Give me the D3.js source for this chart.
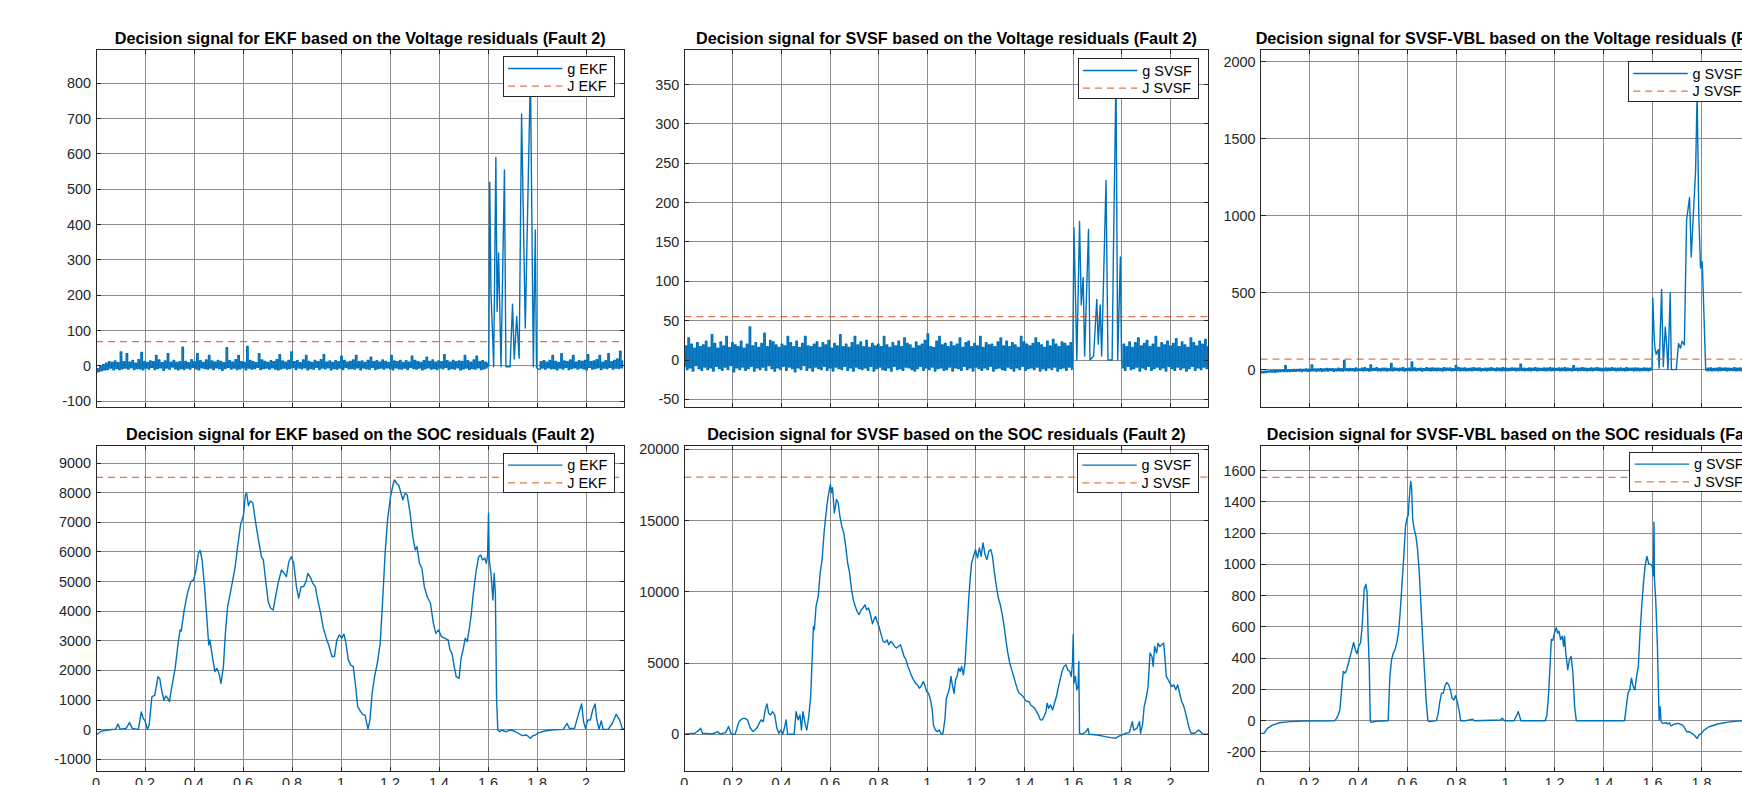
<!DOCTYPE html>
<html><head><meta charset="utf-8">
<script src="https://cdn.jsdelivr.net/npm/d3@7"></script>
<style>
body{margin:0;background:#fff;overflow:hidden}
svg{display:block}
text{font-family:"Liberation Sans",Arial,Helvetica,sans-serif}
</style>
</head><body>
<svg id="c" width="1742" height="785"></svg>
<script>
// ---------------- DATA ----------------
const xTicks = [0,0.2,0.4,0.6,0.8,1,1.2,1.4,1.6,1.8,2];
const xMax = 2.157;
const sampleDt = 0.006;

// EKF voltage decision signal (noise read as alternating low/high envelope samples)
const ekfVoltPre = [-20,-8,-16,-2,-13,4,-11,8,-10,12,-6,10,-11,14,-7,9,-10,40,-8,12,
-6,35,-9,11,-5,16,-10,8,-7,18,-8,38,-11,13,-6,10,-9,14,-4,12,
-10,30,-7,17,-5,9,-12,14,-6,35,-9,11,-3,16,-8,10,-11,12,-7,53,
-10,13,-6,9,-9,18,-4,12,-8,35,-11,15,-5,10,-7,17,-9,30,-6,14,
-10,11,-5,16,-8,13,-12,9,-7,52,-4,15,-9,11,-6,18,-10,30,-8,12,
-5,10,-11,55,-6,16,-9,12,-7,9,-4,35,-10,17,-7,13,-6,10,-9,15,
-5,12,-9,18,-11,32,-8,14,-6,11,-9,16,-7,40,-4,12,-10,15,-6,9,
-8,17,-5,30,-11,13,-7,10,-9,16,-4,12,-10,18,-6,32,-8,11,-5,14,
-11,10,-7,15,-9,12,-6,28,-10,16,-4,11,-8,13,-7,17,-9,30,-5,12,
-11,14,-6,10,-8,16,-9,25,-4,12,-10,15,-7,11,-6,17,-9,13,-5,10,
-7,30,-11,14,-5,12,-8,16,-9,10,-6,15,-10,11,-4,28,-7,16,-9,12,
-6,10,-11,15,-8,25,-5,13,-9,17,-7,11,-10,14,-6,12,-8,32,-4,15,
-10,11,-7,16,-9,12,-5,14,-11,13,-8,30,-6,15,-10,11,-7,17,-9,28,
-5,12,-10,15,-8,11,-6];
const ekfVoltFaultT = [1.598,1.603,1.607,1.612,1.618,1.623,1.632,1.637,1.643,1.653,1.667,1.673,1.69,1.7,1.707,1.717,1.727,1.737,1.752,1.773,1.785,1.793,1.798,1.805];
const ekfVoltFaultG = [8,0,520,206,100,-2,590,154,320,-2,555,-2,-2,175,20,140,22,713,107,830,-2,385,-5,-8];
const ekfVoltPostStart = 1.81;
const ekfVoltPost = [-10,12,-6,15,-9,11,-5,16,-8,30,-7,13,-11,10,-6,35,-9,14,-4,12,
-10,17,-7,30,-5,11,-9,15,-6,13,-8,16,-11,32,-4,12,-9,14,-7,18,
-5,30,-10,11,-6,15,-8,35,-4,12,-9,16,-6,20,-7,42,-5,14];
const ekfVoltJ = 69;

// SVSF voltage decision signal
const svsfVoltPre = [-8,18,-12,28,-10,20,-14,15,-7,22,-11,17,-13,19,-9,24,-12,16,-10,32,
-14,21,-8,15,-11,23,-13,18,-9,30,-12,16,-7,22,-15,19,-10,17,-12,24,
-9,15,-13,20,-11,42,-8,18,-14,22,-10,16,-12,21,-9,34,-13,17,-7,25,
-11,23,-14,19,-10,16,-12,20,-8,18,-13,30,-9,22,-11,17,-15,24,-10,16,
-12,21,-7,30,-13,18,-10,17,-14,20,-9,23,-11,16,-12,22,-8,19,-13,25,
-10,15,-14,21,-9,18,-11,32,-12,17,-8,20,-13,16,-10,22,-14,30,-9,19,
-11,23,-12,17,-10,25,-13,16,-8,21,-14,18,-11,20,-9,17,-12,30,-13,19,
-10,16,-14,22,-8,18,-12,24,-11,17,-13,28,-9,21,-10,19,-12,15,-14,23,
-11,18,-8,20,-13,25,-10,33,-12,17,-9,16,-14,24,-11,30,-10,19,-13,21,
-12,17,-9,23,-14,18,-10,20,-11,28,-13,16,-8,22,-12,24,-10,17,-14,21,
-9,18,-11,30,-13,16,-10,22,-12,19,-8,20,-14,17,-11,23,-10,28,-12,18,
-13,24,-9,17,-11,22,-14,19,-10,16,-12,30,-8,23,-13,20,-11,18,-10,21,
-12,28,-9,22,-14,19,-11,16,-13,24,-10,18,-12,26,-9,20,-14,17,-11,23,
-10,21,-13,18,-9,22,-12];
const svsfVoltFaultT = [1.598,1.603,1.609,1.615,1.626,1.633,1.641,1.647,1.663,1.669,1.684,1.697,1.703,1.711,1.717,1.735,1.743,1.76,1.766,1.776,1.783,1.794,1.799];
const svsfVoltFaultG = [2,168,85,0,176,70,105,5,166,0,5,77,20,70,5,228,0,0,150,360,0,131,0];
const svsfVoltPostStart = 1.802;
const svsfVoltPost = [-10,20,-13,17,-8,23,-12,16,-11,22,-9,28,-14,18,-10,21,-12,25,-8,17,
-13,20,-11,30,-9,16,-12,22,-10,19,-14,24,-8,18,-11,21,-13,27,-9,17,
-12,23,-10,19,-14,16,-11,28,-8,22,-13,18,-10,24,-12,20,-9,26,-11,17];
const svsfVoltJ = 55;

// SVSF-VBL voltage decision signal
const vblVoltPre = [-22,-12,-20,-10,-18,-8,-16,-6,-15,-5,-17,-4,-14,-3,-13,-2,-12,25,-13,-1,
-12,0,-10,2,-11,1,-9,3,-12,2,-8,4,-10,3,-9,30,-7,5,-11,4,
-8,6,-10,5,-7,8,-9,6,-6,7,-10,5,-8,9,-7,6,-9,60,-6,7,
-8,8,-5,6,-9,11,-7,5,-6,9,-8,12,-5,7,-9,30,-6,8,-4,12,
-8,6,-7,10,-5,9,-9,7,-6,40,-8,11,-4,8,-7,10,-6,12,-9,7,
-5,9,-8,50,-6,11,-7,8,-4,10,-9,7,-6,12,-5,9,-8,11,-6,9,
-7,10,-5,8,-9,12,-6,9,-4,11,-8,7,-6,28,-5,12,-7,9,-6,11,
-8,8,-5,10,-7,12,-4,9,-6,11,-8,7,-5,10,-7,9,-6,12,-4,8,
-7,11,-6,9,-8,12,-5,10,-7,8,-6,11,-4,9,-8,9,-6,35,-5,10,
-7,8,-6,11,-8,9,-4,12,-7,10,-5,8,-6,11,-8,9,-5,12,-7,10,
-6,8,-4,11,-8,9,-5,12,-7,10,-6,8,-8,25,-4,9,-7,9,-6,12,
-5,10,-8,8,-6,11,-7,9,-4,12,-6,10,-8,8,-5,11,-7,9,-6,12,
-4,10,-8,9,-6,11,-5,8,-7,12,-6,10,-4,9,-8,11,-5,10,-7,8,
-6,11,-5,9,-7,10,-4];
const vblVoltFaultT = [1.598,1.601,1.607,1.61,1.615,1.623,1.627,1.637,1.644,1.652,1.658,1.663,1.672,1.677,1.697,1.706,1.714,1.721,1.73,1.739,1.751,1.758,1.768,1.776,1.782,1.789,1.796,1.803,1.817];
const vblVoltFaultG = [2,466,200,137,100,130,10,520,20,277,150,0,500,0,0,169,140,184,160,970,1118,732,1050,1300,1800,1000,660,700,0];
const vblVoltPostStart = 1.82;
const vblVoltPost = [-8,9,-6,11,-7,8,-5,10,-8,12,-6,9,-4,11,-7,10,-5,8,-6,12,
-8,9,-5,11,-7,10,-6,8,-4,12,-7,9,-5,11,-8,10,-6,12,-4,9,
-7,11,-5,8,-6,10,-8,12,-5,9,-7,11,-4,10,-6,8,-5];
const vblVoltJ = 68;

// EKF SOC decision signal
const ekfSocT = [0,0.023,0.057,0.08,0.09,0.098,0.123,0.137,0.148,0.173,
0.185,0.193,0.2,0.21,0.217,0.228,0.24,0.253,0.26,0.268,
0.277,0.285,0.293,0.3,0.307,0.323,0.335,0.343,0.348,0.36,
0.373,0.387,0.398,0.407,0.418,0.425,0.433,0.443,0.452,0.46,
0.465,0.473,0.485,0.493,0.502,0.51,0.52,0.528,0.537,0.548,
0.557,0.568,0.578,0.59,0.602,0.61,0.615,0.622,0.63,0.64,
0.652,0.663,0.675,0.683,0.693,0.703,0.713,0.723,0.733,0.743,
0.757,0.768,0.777,0.787,0.797,0.807,0.818,0.827,0.837,0.847,
0.857,0.865,0.877,0.885,0.895,0.905,0.917,0.928,0.94,0.952,
0.963,0.973,0.983,0.993,1.003,1.012,1.02,1.03,1.04,1.05,
1.06,1.068,1.08,1.09,1.098,1.11,1.118,1.127,1.137,1.148,
1.16,1.17,1.18,1.19,1.202,1.212,1.218,1.227,1.235,1.243,
1.252,1.262,1.27,1.282,1.293,1.303,1.31,1.32,1.33,1.34,
1.352,1.365,1.377,1.387,1.398,1.41,1.423,1.437,1.445,1.453,
1.462,1.47,1.482,1.49,1.498,1.507,1.515,1.523,1.532,1.54,
1.552,1.562,1.57,1.578,1.587,1.593,1.598,1.602,1.605,1.612,
1.62,1.625,1.63,1.635,1.64,1.648,1.657,1.673,1.69,1.707,
1.723,1.74,1.757,1.773,1.782,1.793,1.807,1.832,1.857,1.907,
1.923,1.932,1.953,1.97,1.982,1.99,1.998,2.007,2.018,2.027,
2.037,2.043,2.053,2.062,2.07,2.09,2.107,2.123,2.137,2.148,
2.157];
const ekfSocG = [-180,-45,0,20,190,20,45,240,45,10,
600,380,300,10,160,1110,1170,1790,1730,1340,
1000,1140,1060,950,1340,2070,2900,3370,3330,4040,
4600,5000,5060,5340,5960,6050,5730,4830,3820,2860,
3030,2580,1960,2070,1900,1565,2130,3250,4150,4600,
5000,5500,6180,6910,7250,7930,7980,7560,7720,7650,
6970,6410,5840,5730,5000,4320,4100,4040,4490,4940,
5390,5280,5170,5670,5840,5620,4830,4440,4830,4830,
5000,5280,5110,4940,4830,4380,3930,3420,3090,2800,
2470,2470,3030,3200,3090,3230,2920,2350,2180,2130,
1450,780,610,500,500,20,330,1230,1790,2240,
2920,4380,5960,7080,7870,8260,8430,8320,8260,8040,
7760,7980,7930,7310,6520,6070,6180,5620,5450,4830,
4490,4270,3590,3250,3370,3140,3090,3030,2690,2580,
2130,1790,1730,2410,2690,3090,2970,3370,3930,4600,
5390,5840,5900,5730,5790,5620,5840,7310,5730,5280,
4380,5280,4600,1000,-10,-70,-10,-70,-10,-45,
-120,-200,-180,-290,-210,-180,-100,-45,-10,10,
210,45,45,550,870,270,45,330,330,660,
870,380,20,300,10,10,210,520,330,45,
10];
const ekfSocJ = 8520;

// SVSF SOC decision signal
const svsfSocT = [0,0.02,0.044,0.06,0.067,0.075,0.115,0.138,0.146,0.17,
0.182,0.193,0.209,0.225,0.237,0.248,0.26,0.272,0.283,0.29,
0.3,0.308,0.316,0.325,0.333,0.34,0.347,0.355,0.363,0.372,
0.381,0.389,0.397,0.405,0.413,0.419,0.425,0.436,0.452,0.46,
0.468,0.476,0.482,0.488,0.498,0.504,0.512,0.52,0.527,0.531,
0.535,0.542,0.551,0.559,0.567,0.575,0.582,0.59,0.597,0.601,
0.606,0.61,0.617,0.622,0.626,0.633,0.64,0.648,0.656,0.664,
0.672,0.68,0.688,0.695,0.703,0.711,0.719,0.727,0.735,0.743,
0.75,0.758,0.766,0.774,0.78,0.787,0.793,0.801,0.808,0.818,
0.826,0.834,0.841,0.849,0.857,0.865,0.873,0.881,0.889,0.896,
0.904,0.912,0.92,0.928,0.936,0.943,0.951,0.959,0.967,0.975,
0.983,0.989,0.997,1.005,1.013,1.02,1.025,1.033,1.041,1.049,
1.057,1.064,1.072,1.078,1.085,1.091,1.097,1.104,1.11,1.116,
1.122,1.129,1.135,1.141,1.148,1.155,1.163,1.17,1.176,1.182,
1.19,1.198,1.206,1.214,1.221,1.229,1.237,1.245,1.253,1.261,
1.268,1.276,1.284,1.292,1.3,1.308,1.316,1.323,1.331,1.339,
1.347,1.355,1.363,1.371,1.378,1.386,1.394,1.402,1.41,1.418,
1.425,1.433,1.441,1.449,1.457,1.465,1.473,1.48,1.488,1.493,
1.499,1.507,1.515,1.523,1.531,1.538,1.546,1.554,1.562,1.57,
1.578,1.586,1.592,1.597,1.6,1.603,1.609,1.615,1.62,1.623,
1.626,1.637,1.653,1.661,1.666,1.7,1.732,1.755,1.776,1.784,
1.8,1.815,1.831,1.843,1.849,1.862,1.873,1.877,1.885,1.892,
1.9,1.908,1.916,1.924,1.929,1.935,1.943,1.949,1.956,1.964,
1.972,1.977,1.983,1.991,1.998,2.006,2.014,2.022,2.03,2.038,
2.046,2.053,2.061,2.069,2.077,2.085,2.1,2.116,2.124,2.132,
2.157];
const svsfSocG = [0,50,70,300,420,70,20,190,20,120,
540,20,0,890,1080,1130,1010,420,190,300,
470,770,1010,890,1710,2130,1480,1360,1590,1360,
420,70,300,0,540,1010,0,0,0,1590,
1010,1360,300,1590,660,300,1240,2650,5700,7570,
7340,8980,9680,11320,12260,14130,15310,16480,17180,17530,
16950,17300,15540,16010,16480,16240,15310,14600,14130,13200,
12020,11320,10150,9450,8980,8630,8390,8700,8860,9090,
8740,8860,8390,7760,8040,8270,7920,7570,7100,6520,
6450,6630,6280,6520,6400,6160,6050,6160,6280,5930,
5460,5230,4760,4410,4060,3820,3590,3470,3230,3400,
3700,3470,3000,2880,2410,1710,660,300,190,300,
0,70,1010,2530,2880,3230,4060,3350,2880,3820,
4060,4640,4410,4760,4170,4990,7340,9450,10850,12020,
12490,12960,12380,13080,12490,13430,12610,12260,12850,12960,
12490,11320,10380,9560,9090,8390,7570,6630,5700,4990,
4520,4060,3590,3120,2880,2770,2650,2410,2300,2300,
2060,1950,1830,1590,1360,1010,1010,1240,1590,2180,
1830,2060,1710,2180,2650,3230,3820,4410,4760,4880,
4520,4410,4060,4990,6980,3590,4060,3120,3350,5110,
70,0,190,420,0,-50,-160,-230,-280,-160,
-50,70,120,890,300,420,890,70,660,1950,
2530,3350,5700,5460,4760,6160,5700,6400,6160,6280,
6400,5460,4060,3820,3590,3350,3470,3120,3470,2880,
2300,2060,1590,1010,420,70,70,300,190,20,
0];
const svsfSocJ = 18040;

// SVSF-VBL SOC decision signal
const vblSocT = [0,0.014,0.028,0.049,0.077,0.12,0.176,0.303,0.31,0.317,
0.324,0.331,0.338,0.345,0.352,0.359,0.366,0.373,0.38,0.387,
0.394,0.401,0.408,0.415,0.423,0.43,0.435,0.439,0.444,0.448,
0.451,0.472,0.514,0.521,0.528,0.535,0.542,0.549,0.556,0.563,
0.57,0.577,0.585,0.592,0.599,0.603,0.607,0.613,0.617,0.621,
0.627,0.634,0.641,0.648,0.655,0.662,0.669,0.676,0.683,0.69,
0.718,0.725,0.732,0.739,0.746,0.754,0.761,0.768,0.775,0.782,
0.789,0.796,0.803,0.81,0.817,0.838,0.866,0.873,0.979,0.987,
0.996,1.035,1.046,1.052,1.058,1.063,1.162,1.169,1.176,1.183,
1.187,1.193,1.2,1.207,1.213,1.218,1.225,1.232,1.237,1.241,
1.246,1.254,1.261,1.268,1.275,1.282,1.289,1.486,1.493,1.5,
1.507,1.514,1.521,1.528,1.535,1.542,1.549,1.556,1.563,1.57,
1.577,1.585,1.592,1.599,1.603,1.606,1.608,1.613,1.62,1.627,
1.631,1.635,1.641,1.655,1.663,1.669,1.676,1.69,1.704,1.723,
1.732,1.739,1.75,1.761,1.77,1.782,1.789,1.8,1.81,1.831,
1.866,1.908,1.96,2.0,2.08,2.157];
const vblSocG = [-81,-81,-49,-28,-13,-6,-2,0,15,36,
69,197,315,304,326,369,411,454,501,454,
429,476,497,604,840,872,819,561,347,0,
-11,-4,0,0,283,390,433,454,497,561,
690,861,1054,1247,1301,1312,1419,1530,1483,1290,
1226,1183,1097,947,733,519,326,133,0,-6,
0,47,122,176,176,229,244,229,197,144,
133,159,122,69,0,0,9,0,4,15,
0,0,36,58,26,0,0,36,176,390,
519,514,561,594,561,572,519,540,476,540,
433,326,390,411,304,90,0,0,90,176,
197,272,219,197,283,347,561,733,883,990,
1050,1001,1001,990,926,1269,904,776,476,4,
90,-6,-17,-13,-21,-13,-34,-21,-17,-28,
-49,-71,-71,-81,-92,-114,-92,-81,-60,-39,
-21,-9,0,0,0,0];
const vblSocJ = 1556;

// y ticks
const ekfVoltTicks = [-100,0,100,200,300,400,500,600,700,800];
const svsfVoltTicks = [-50,0,50,100,150,200,250,300,350];
const vblVoltTicks = [0,500,1000,1500,2000];
const ekfSocTicks = [-1000,0,1000,2000,3000,4000,5000,6000,7000,8000,9000];
const svsfSocTicks = [0,5000,10000,15000,20000];
const vblSocTicks = [-200,0,200,400,600,800,1000,1200,1400,1600];

// ---------------- BUILD SERIES ----------------
// dense noisy parts drawn as min/max steps (one vertical stroke per sample), fault spikes as plain lines
function noisySegments(pre, faultT, faultG, postStart, post){
  const a = pre.map((g,i)=>[i*sampleDt, g]);
  const f = faultT.map((t,i)=>[t, faultG[i]]);
  const b = post.map((g,i)=>[postStart + i*sampleDt, g]);
  return [
    {pts:a, step:true},
    {pts:[a[a.length-1], ...f, b[0]], step:false},
    {pts:b, step:true}
  ];
}
const zip = (T,G)=>[{pts:T.map((t,i)=>[t,G[i]]), step:false}];

const cols = [{x:96,w:528.5},{x:684.3,w:524.3},{x:1260.5,w:528.5}];
const rows = [{y:49.3,h:358.4},{y:445,h:326.5}];

const panels = [
 {c:0,r:0,title:"Decision signal for EKF based on the Voltage residuals (Fault 2)",
  segs:noisySegments(ekfVoltPre,ekfVoltFaultT,ekfVoltFaultG,ekfVoltPostStart,ekfVoltPost),
  J:ekfVoltJ, yDom:[-118,896], yTicks:ekfVoltTicks, leg:["g EKF","J EKF"], legX:407, legY:7.4, xLabels:false},
 {c:1,r:0,title:"Decision signal for SVSF based on the Voltage residuals (Fault 2)",
  segs:noisySegments(svsfVoltPre,svsfVoltFaultT,svsfVoltFaultG,svsfVoltPostStart,svsfVoltPost),
  J:svsfVoltJ, yDom:[-60.6,394.8], yTicks:svsfVoltTicks, leg:["g SVSF","J SVSF"], legX:393.7, legY:9.4, xLabels:false},
 {c:2,r:0,title:"Decision signal for SVSF-VBL based on the Voltage residuals (Fault 2)",
  segs:noisySegments(vblVoltPre,vblVoltFaultT,vblVoltFaultG,vblVoltPostStart,vblVoltPost),
  J:vblVoltJ, yDom:[-247,2080], yTicks:vblVoltTicks, leg:["g SVSF-VBL","J SVSF-VBL"], legX:367.8, legY:12.4, xLabels:false},
 {c:0,r:1,title:"Decision signal for EKF based on the SOC residuals (Fault 2)",
  segs:zip(ekfSocT,ekfSocG), J:ekfSocJ, yDom:[-1411,9611], yTicks:ekfSocTicks, leg:["g EKF","J EKF"], legX:407, legY:8.3, xLabels:true},
 {c:1,r:1,title:"Decision signal for SVSF based on the SOC residuals (Fault 2)",
  segs:zip(svsfSocT,svsfSocG), J:svsfSocJ, yDom:[-2611,20300], yTicks:svsfSocTicks, leg:["g SVSF","J SVSF"], legX:393, legY:8.3, xLabels:true},
 {c:2,r:1,title:"Decision signal for SVSF-VBL based on the SOC residuals (Fault 2)",
  segs:zip(vblSocT,vblSocG), J:vblSocJ, yDom:[-325,1763], yTicks:vblSocTicks, leg:["g SVSF-VBL","J SVSF-VBL"], legX:369.2, legY:7.3, xLabels:true}
];

// ---------------- DRAW ----------------
const BLUE = "#0072BD", ORANGE = "#D95319", AXC = "#262626", GRID = "#8c8c8c";
const FS = 14.4, TFS = 16.2;
const svg = d3.select("#c");
svg.append("rect").attr("width",1742).attr("height",785).attr("fill","#fff");

panels.forEach((p,k)=>{
  const L = cols[p.c].x, W = cols[p.c].w, T = rows[p.r].y, H = rows[p.r].h;
  const x = d3.scaleLinear().domain([0,xMax]).range([0,W]);
  const y = d3.scaleLinear().domain(p.yDom).range([H,0]);
  const g = svg.append("g").attr("transform",`translate(${L},${T})`);
  g.append("rect").attr("width",W).attr("height",H).attr("fill","#fff");

  // grid
  const grid = g.append("g").attr("stroke",GRID).attr("stroke-width",1).attr("shape-rendering","crispEdges");
  xTicks.forEach(v=>{ grid.append("line").attr("x1",x(v)).attr("x2",x(v)).attr("y1",0).attr("y2",H); });
  p.yTicks.forEach(v=>{ grid.append("line").attr("x1",0).attr("x2",W).attr("y1",y(v)).attr("y2",y(v)); });

  // clip
  const cid = "clip"+k;
  g.append("clipPath").attr("id",cid).append("rect").attr("width",W).attr("height",H);
  const plot = g.append("g").attr("clip-path",`url(#${cid})`);

  p.segs.forEach(s=>{
    const line = d3.line().x(d=>x(d[0])).y(d=>y(d[1])).curve(s.step ? d3.curveStep : d3.curveLinear);
    plot.append("path").datum(s.pts).attr("d",line).attr("fill","none")
        .attr("stroke",BLUE).attr("stroke-width",1.4).attr("stroke-linejoin","round");
  });
  plot.append("line").attr("x1",x(0)).attr("x2",x(xMax)).attr("y1",y(p.J)).attr("y2",y(p.J))
      .attr("stroke",ORANGE).attr("stroke-opacity",0.8).attr("stroke-width",1.3).attr("stroke-dasharray","7,5");

  // axes box and ticks
  g.append("rect").attr("width",W).attr("height",H).attr("fill","none")
   .attr("stroke",AXC).attr("stroke-width",1).attr("shape-rendering","crispEdges");
  const tk = g.append("g").attr("stroke",AXC).attr("stroke-width",1).attr("shape-rendering","crispEdges");
  xTicks.forEach(v=>{
    tk.append("line").attr("x1",x(v)).attr("x2",x(v)).attr("y1",H).attr("y2",H-5);
    tk.append("line").attr("x1",x(v)).attr("x2",x(v)).attr("y1",0).attr("y2",5);
  });
  p.yTicks.forEach(v=>{
    tk.append("line").attr("x1",0).attr("x2",5).attr("y1",y(v)).attr("y2",y(v));
    tk.append("line").attr("x1",W).attr("x2",W-5).attr("y1",y(v)).attr("y2",y(v));
  });

  // y tick labels
  p.yTicks.forEach(v=>{
    g.append("text").attr("x",-5).attr("y",y(v)).attr("dy","0.35em")
     .attr("text-anchor","end").attr("font-size",FS).attr("fill",AXC).text(String(v));
  });
  if(p.xLabels){
    xTicks.forEach(v=>{
      g.append("text").attr("x",x(v)).attr("y",H+16).attr("text-anchor","middle")
       .attr("font-size",FS).attr("fill",AXC).text(String(v));
    });
  }

  // title
  g.append("text").attr("x",W/2).attr("y",-5.2).attr("text-anchor","middle")
   .attr("font-size",TFS).attr("font-weight","bold").attr("fill","#000").text(p.title);

  // legend
  const lg = g.append("g").attr("transform",`translate(${p.legX},${p.legY})`);
  const box = lg.append("rect").attr("fill","#fff").attr("stroke",AXC).attr("stroke-width",1)
     .attr("shape-rendering","crispEdges");
  const rowsY = [11.8, 29.5];
  let tw = 0;
  p.leg.forEach((lab,i)=>{
    const ln = lg.append("line").attr("x1",5).attr("x2",59.4).attr("y1",rowsY[i]).attr("y2",rowsY[i])
       .attr("stroke-width",1.3);
    if(i===0) ln.attr("stroke",BLUE);
    else ln.attr("stroke",ORANGE).attr("stroke-opacity",0.8).attr("stroke-dasharray","7,5");
    const t = lg.append("text").attr("x",64.3).attr("y",rowsY[i]).attr("dy","0.35em")
       .attr("font-size",FS).attr("fill","#000").text(lab);
    tw = Math.max(tw, t.node().getComputedTextLength());
  });
  box.attr("width",64.3+tw+7).attr("height",39.3);
});
</script>
</body></html>
